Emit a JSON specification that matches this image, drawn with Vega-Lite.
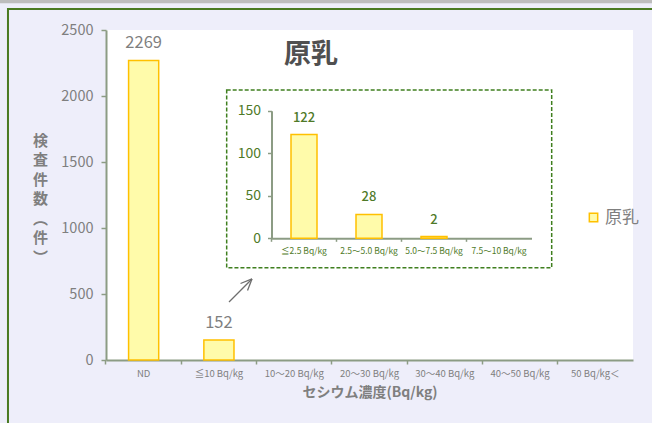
{
  "$schema": "https://vega.github.io/schema/vega-lite/v6.json",
  "width": 527,
  "height": 330,
  "autosize": {"type": "none"},
  "padding": {"left": 106, "top": 30, "right": 19, "bottom": 63},
  "background": "#EEEEFA",
  "config": {
    "font": "Noto Sans CJK JP",
    "view": {"fill": "white", "stroke": null},
    "axis": {"grid": false, "domainColor": "#8C9C84", "domainWidth": 2, "tickColor": "#8C9C84", "tickWidth": 1.5}
  },
  "title": {"text": "原乳", "anchor": "start", "frame": "group", "dx": 178, "dy": 73, "fontSize": 27, "fontWeight": "bold", "color": "#505050"},
  "datasets": {
    "main": [
      {"category": "ND", "count": 2269},
      {"category": "≦10 Bq/kg", "count": 152},
      {"category": "10～20 Bq/kg", "count": 0},
      {"category": "20～30 Bq/kg", "count": 0},
      {"category": "30～40 Bq/kg", "count": 0},
      {"category": "40～50 Bq/kg", "count": 0},
      {"category": "50 Bq/kg＜", "count": 0}
    ],
    "inset": [
      {"category": "≦2.5 Bq/kg", "count": 122},
      {"category": "2.5～5.0 Bq/kg", "count": 28},
      {"category": "5.0～7.5 Bq/kg", "count": 2},
      {"category": "7.5～10 Bq/kg", "count": 0}
    ]
  },
  "layer": [
    {
      "data": {"name": "main"},
      "encoding": {
        "x": {
          "field": "category", "type": "nominal", "sort": null,
          "scale": {"domain": ["ND", "≦10 Bq/kg", "10～20 Bq/kg", "20～30 Bq/kg", "30～40 Bq/kg", "40～50 Bq/kg", "50 Bq/kg＜"], "paddingInner": 0.6, "paddingOuter": 0.3},
          "axis": {"orient": "bottom", "title": "セシウム濃度(Bq/kg)", "labelAngle": 0, "labelFontSize": 9.5, "labelColor": "#7F7F7F", "labelPadding": 4, "tickSize": 4, "bandPosition": -0.75, "titleFontSize": 14, "titleFontWeight": "bold", "titleColor": "#7F7F7F", "titlePadding": 8}
        },
        "y": {
          "field": "count", "type": "quantitative",
          "scale": {"domain": [0, 2500], "nice": false},
          "axis": {"orient": "left", "tickCount": 5, "format": "d", "labelFontSize": 14.5, "labelColor": "#7F7F7F", "labelPadding": 8, "tickSize": 5,
                   "title": ["検", "査", "件", "数", "︵", "件", "︶"], "titleAngle": 0, "titleAlign": "center", "titleBaseline": "top", "titleX": -66, "titleY": 103, "titleFontSize": 15, "titleFontWeight": "bold", "titleColor": "#7F7F7F", "titleLineHeight": 19.5}
        }
      },
      "layer": [
        {
          "transform": [{"filter": "datum.count > 0"}],
          "mark": {"type": "bar", "stroke": "#FFC000", "strokeWidth": 1.5},
          "encoding": {
            "color": {"datum": "原乳", "scale": {"range": ["#FFFBAA"]},
                      "legend": {"orient": "none", "legendX": 479, "legendY": 179, "title": null, "symbolType": "square", "symbolSize": 70, "symbolStrokeColor": "#FFC000", "symbolStrokeWidth": 1.5, "labelFontSize": 17, "labelColor": "#7F7F7F", "labelOffset": 3, "padding": 0}}
          }
        },
        {
          "transform": [{"filter": "datum.count > 0"}],
          "mark": {"type": "text", "baseline": "bottom", "dy": -9, "fontSize": 16.5, "color": "#7F7F7F"},
          "encoding": {"text": {"field": "count", "type": "quantitative", "format": "d"}}
        }
      ]
    },
    {
      "data": {"name": "inset"},
      "encoding": {
        "x": {
          "field": "category", "type": "nominal", "sort": null,
          "scale": {"domain": ["≦2.5 Bq/kg", "2.5～5.0 Bq/kg", "5.0～7.5 Bq/kg", "7.5～10 Bq/kg"], "range": [165.5, 425.5], "paddingInner": 0.6, "paddingOuter": 0.3},
          "axis": {"orient": "bottom", "offset": -121.7, "title": null, "labelAngle": 0, "labelFontSize": 8.5, "labelColor": "#4F7A28", "labelPadding": 5, "tickSize": 3, "bandPosition": -0.75}
        },
        "y": {
          "field": "count", "type": "quantitative",
          "scale": {"domain": [0, 150], "nice": false, "range": [208.3, 80.7]},
          "axis": {"orient": "left", "offset": -165.5, "title": null, "values": [0, 50, 100, 150], "labelFontSize": 14, "labelColor": "#4F7A28", "tickSize": 4, "labelPadding": 7}
        }
      },
      "layer": [
        {
          "transform": [{"filter": "datum.count > 0"}],
          "mark": {"type": "bar", "fill": "#FFFBAA", "stroke": "#FFC000", "strokeWidth": 1.5}
        },
        {
          "transform": [{"filter": "datum.count > 0"}],
          "mark": {"type": "text", "baseline": "bottom", "dy": -10, "fontSize": 13, "fontWeight": 500, "color": "#4F7A28"},
          "encoding": {"text": {"field": "count", "type": "quantitative", "format": "d"}}
        }
      ]
    },
    {
      "data": {"values": [{}]},
      "layer": [
        {
          "mark": {"type": "rect", "fill": "#BDBDBD"},
          "encoding": {
            "x": {"datum": -1.5, "type": "quantitative", "scale": {"domain": [0, 7], "nice": false, "zero": false}, "axis": null},
            "x2": {"datum": 7.5},
            "y": {"datum": 2727, "type": "quantitative", "scale": {"domain": [0, 2500], "nice": false}, "axis": null},
            "y2": {"datum": 2702}
          }
        },
        {
          "mark": {"type": "rect", "fill": "transparent", "stroke": "#4A7A22", "strokeWidth": 2},
          "encoding": {
            "x": {"datum": -1.302, "type": "quantitative", "scale": {"domain": [0, 7], "nice": false, "zero": false}, "axis": null},
            "x2": {"datum": 8},
            "y": {"datum": 2659, "type": "quantitative", "scale": {"domain": [0, 2500], "nice": false}, "axis": null},
            "y2": {"datum": -606}
          }
        },
        {
          "mark": {"type": "rect", "fill": "transparent", "stroke": "#3F7F1F", "strokeWidth": 1.5, "strokeDash": [4, 2]},
          "encoding": {
            "x": {"datum": 1.603, "type": "quantitative", "scale": {"domain": [0, 7], "nice": false, "zero": false}, "axis": null},
            "x2": {"datum": 5.92},
            "y": {"datum": 2045.5, "type": "quantitative", "scale": {"domain": [0, 2500], "nice": false}, "axis": null},
            "y2": {"datum": 699}
          }
        },
        {
          "mark": {"type": "rule", "stroke": "#6E6E6E", "strokeWidth": 1.3},
          "encoding": {
            "x": {"datum": 1.634, "type": "quantitative", "scale": {"domain": [0, 7], "nice": false, "zero": false}, "axis": null},
            "x2": {"datum": 1.939},
            "y": {"datum": 439, "type": "quantitative", "scale": {"domain": [0, 2500], "nice": false}, "axis": null},
            "y2": {"datum": 614}
          }
        },
        {
          "mark": {"type": "rule", "stroke": "#6E6E6E", "strokeWidth": 1.3},
          "encoding": {
            "x": {"datum": 1.787, "type": "quantitative", "scale": {"domain": [0, 7], "nice": false, "zero": false}, "axis": null},
            "x2": {"datum": 1.939},
            "y": {"datum": 579.5, "type": "quantitative", "scale": {"domain": [0, 2500], "nice": false}, "axis": null},
            "y2": {"datum": 614}
          }
        },
        {
          "mark": {"type": "rule", "stroke": "#6E6E6E", "strokeWidth": 1.3},
          "encoding": {
            "x": {"datum": 1.88, "type": "quantitative", "scale": {"domain": [0, 7], "nice": false, "zero": false}, "axis": null},
            "x2": {"datum": 1.939},
            "y": {"datum": 526.5, "type": "quantitative", "scale": {"domain": [0, 2500], "nice": false}, "axis": null},
            "y2": {"datum": 614}
          }
        }
      ]
    }
  ],
  "resolve": {"scale": {"x": "independent", "y": "independent", "color": "independent"}, "axis": {"x": "independent", "y": "independent"}}
}
